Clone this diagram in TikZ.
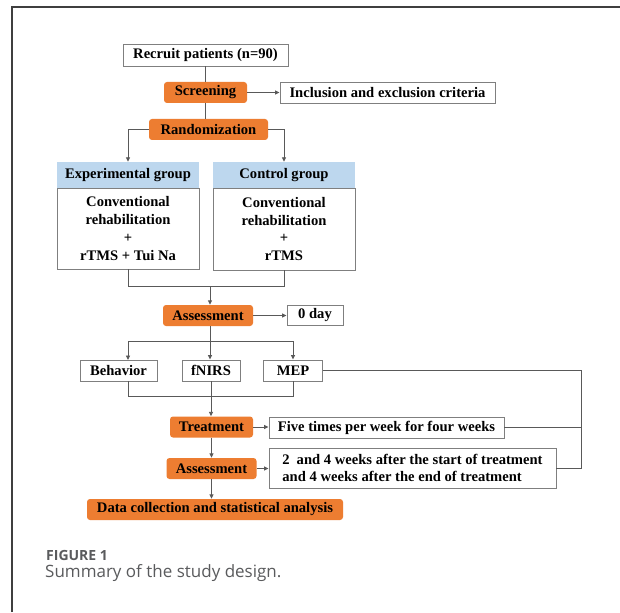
\documentclass[tikz,border=0pt]{standalone}
\usepackage{fontspec}
\setmainfont{Liberation Serif}
\newfontfamily\capfont{Open Sans}
\usetikzlibrary{arrows.meta}
\definecolor{org}{HTML}{ED7D31}
\definecolor{lblue}{HTML}{BDD7EE}
\definecolor{lgray}{HTML}{595959}
\definecolor{bgray}{HTML}{7F7F7F}
\definecolor{capgray}{HTML}{5A5B5D}
\definecolor{framegray}{HTML}{3F3F3F}
\begin{document}
\begin{tikzpicture}[x=1pt,y=-1pt,
  base/.style={font=\fontsize{14.6}{17.7}\selectfont\bfseries, inner sep=0pt, anchor=center, text=black},
  wbox/.style={base, draw=bgray, line width=0.9pt, fill=white},
  obox/.style={base, fill=org, rounded corners=3pt},
  hbox/.style={base, fill=lblue},
  conn/.style={draw=lgray, line width=0.9pt},
  arr/.style={conn, -{Triangle[length=4.5pt,width=4pt]}},
]
\useasboundingbox (0,0) rectangle (620,612);
\fill[white] (0,0) rectangle (620,612);
% frame
\draw[framegray, line width=1.6pt] (12,612) -- (12,7) -- (620,7);

% nodes
\node[wbox, minimum width=165pt, minimum height=22pt] (recruit) at (205.5,55) {Recruit patients (n=90)};
\node[obox, minimum width=83pt, minimum height=21pt] (screen) at (205.5,92.5) {Screening};
\node[wbox, minimum width=215pt, minimum height=21pt] (incl) at (387.5,93) {Inclusion and exclusion criteria};
\node[obox, minimum width=119pt, minimum height=21pt] (rand) at (208.5,129.5) {Randomization};

\node[hbox, minimum width=142pt, minimum height=26pt] (exph) at (128,175) {Experimental group};
\node[wbox, minimum width=142pt, minimum height=81pt, align=center] (expb) at (128,228.5) {Conventional\\rehabilitation\\+\\rTMS + Tui Na};
\node[hbox, minimum width=142pt, minimum height=26pt] (ctlh) at (284,175) {Control group};
\node[wbox, minimum width=142pt, minimum height=82pt, align=center] (ctlb) at (284,229) {Conventional\\rehabilitation\\+\\rTMS};

\node[obox, minimum width=90pt, minimum height=21pt] (asm1) at (208,315.5) {Assessment};
\node[wbox, minimum width=56pt, minimum height=20pt] (zero) at (315,315.5) {0 day};

\node[wbox, minimum width=77pt, minimum height=21pt] (beh) at (118.5,370.5) {Behavior};
\node[wbox, minimum width=58pt, minimum height=21pt] (fnirs) at (211,370.5) {fNIRS};
\node[wbox, minimum width=59pt, minimum height=21pt] (mep) at (293,370.5) {MEP};

\node[obox, minimum width=83pt, minimum height=21pt] (treat) at (211.5,427) {Treatment};
\node[wbox, minimum width=235pt, minimum height=21pt] (five) at (386.5,427.5) {Five times per week for four weeks};
\node[obox, minimum width=90pt, minimum height=21pt] (asm2) at (211.5,468.5) {Assessment};
\node[wbox, minimum width=287pt, minimum height=40pt, align=left] (box2) at (412.5,468) {2\hspace{7pt}and 4 weeks after the start of treatment\\and 4 weeks after the end of treatment};
\node[obox, minimum width=256pt, minimum height=21pt] (data) at (215,509.5) {Data collection and statistical analysis};

% helper coordinates
\coordinate (m1) at (210,286);
\coordinate (s1) at (210,341);
\coordinate (bt) at (128,360);
\coordinate (bb) at (128,381);
\coordinate (m2) at (211,396);
\coordinate (rx) at (581,0);

% connectors
\draw[conn] (recruit.south) -- (screen.north);
\draw[conn] (screen.south) -- (screen.south |- rand.north);
\draw[arr] (screen.east) -- (incl.west |- screen.east);
\draw[arr] (rand.west) -| (exph.north);
\draw[arr] (rand.east) -| (ctlh.north);
\draw[conn] (expb.south) |- (ctlb.south |- m1) -- (ctlb.south);
\draw[arr] (m1) -- (m1 |- asm1.north);
\draw[arr] (asm1.east) -- (zero.west |- asm1.east);
\draw[conn] (s1 |- asm1.south) -- (s1);
\draw[arr] (s1) -| (bt);
\draw[arr] (s1) -| (mep.north);
\draw[arr] (s1) -- (s1 |- fnirs.north);
\draw[conn] (bb) |- (mep.south |- m2) -- (mep.south);
\draw[arr] (m2 |- fnirs.south) -- (m2 |- treat.north);
\draw[arr] (treat.east) -- (five.west |- treat.east);
\draw[arr] (treat.south) -- (treat.south |- asm2.north);
\draw[arr] (asm2.east) -- (box2.west |- asm2.east);
\draw[arr] (asm2.south) -- (asm2.south |- data.north);
\draw[conn] (mep.east) -| (rx |- box2.east) -- (box2.east);
\draw[conn] (five.east) -- (five.east -| rx);

% caption
\node[anchor=base west, inner sep=0pt, font=\capfont\fontsize{14}{16}\selectfont\bfseries, text=capgray] (fig) at (46,560) {FIGURE 1};
\node[anchor=base west, inner sep=0pt, font=\capfont\fontsize{17}{20}\selectfont, text=capgray] (cap) at (45,577) {Summary of the study design.};
\end{tikzpicture}
\end{document}
